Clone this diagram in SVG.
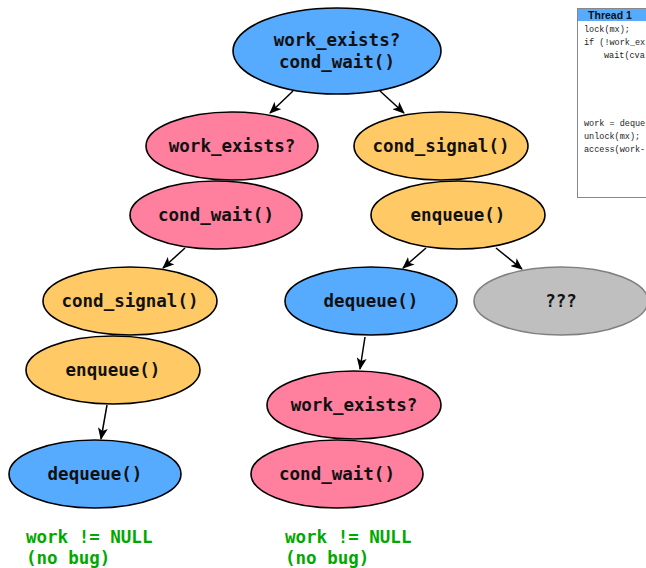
<svg xmlns="http://www.w3.org/2000/svg" width="646" height="568" viewBox="0 0 646 568">
  <style>
    .n { stroke: #000; stroke-width: 1.6; }
    .blue { fill: #56abff; }
    .pink { fill: #ff7f9f; }
    .yellow { fill: #ffc966; }
    .gray { fill: #bfbfbf; stroke: #808080; }
    .t { font-family: "DejaVu Sans Mono", "Liberation Mono", monospace; font-weight: bold; font-size: 17.5px; text-anchor: middle; fill: #111; }
    .note { font-family: "DejaVu Sans Mono", "Liberation Mono", monospace; font-weight: bold; font-size: 17.5px; fill: #00a800; }
    .code { font-family: "Liberation Mono", "DejaVu Sans Mono", monospace; font-size: 8.5px; fill: #222; }
    .edge { stroke: #000; stroke-width: 1.5; fill: none; marker-end: url(#arr); }
  </style>
  <defs>
    <marker id="arr" viewBox="0 0 12 10" refX="11" refY="5" markerWidth="12" markerHeight="10" markerUnits="userSpaceOnUse" orient="auto">
      <path d="M0,0 L12,5 L0,10 L3,5 Z" fill="#000"/>
    </marker>
    <clipPath id="panel-clip">
      <rect x="578" y="9" width="68" height="188"/>
    </clipPath>
  </defs>

  <!-- code panel (runs past the right edge of the canvas) -->
  <g id="code-panel">
    <rect x="577.5" y="8.5" width="80" height="189" fill="#fff" stroke="#888" stroke-width="1"/>
    <rect x="578" y="9" width="79" height="12" fill="#56abff"/>
    <g clip-path="url(#panel-clip)">
      <text x="610" y="18.5" font-family="Liberation Sans, Arial, sans-serif" font-weight="bold" font-size="10.5" text-anchor="middle" fill="#111">Thread 1</text>
      <text class="code" x="584" y="32">lock(mx);</text>
      <text class="code" x="584" y="45">if (!work_ex</text>
      <text class="code" x="604" y="58">wait(cva</text>
      <text class="code" x="584" y="126">work = deque</text>
      <text class="code" x="584" y="139">unlock(mx);</text>
      <text class="code" x="584" y="152">access(work-</text>
    </g>
  </g>

  <!-- connectors -->
  <g id="edges">
    <line class="edge" x1="293" y1="91" x2="270" y2="113"/>
    <line class="edge" x1="380" y1="91" x2="404" y2="113"/>
    <line class="edge" x1="185" y1="248" x2="163" y2="268"/>
    <line class="edge" x1="426" y1="248" x2="403" y2="268"/>
    <line class="edge" x1="496" y1="248" x2="522" y2="269"/>
    <line class="edge" x1="365" y1="337" x2="360" y2="369"/>
    <line class="edge" x1="107" y1="405" x2="101" y2="439"/>
  </g>

  <!-- nodes -->
  <g id="root">
    <ellipse class="n blue" cx="337" cy="51" rx="104" ry="43"/>
    <text class="t" x="337" y="46">work_exists?</text>
    <text class="t" x="337" y="68">cond_wait()</text>
  </g>
  <g id="a-check">
    <ellipse class="n pink" cx="232" cy="146" rx="86" ry="34"/>
    <text class="t" x="232" y="152">work_exists?</text>
  </g>
  <g id="a-wait">
    <ellipse class="n pink" cx="216" cy="215" rx="86" ry="34"/>
    <text class="t" x="216" y="221">cond_wait()</text>
  </g>
  <g id="b-signal">
    <ellipse class="n yellow" cx="441" cy="146" rx="87" ry="34"/>
    <text class="t" x="441" y="152">cond_signal()</text>
  </g>
  <g id="b-enqueue">
    <ellipse class="n yellow" cx="458" cy="215" rx="87" ry="34"/>
    <text class="t" x="458" y="221">enqueue()</text>
  </g>
  <g id="c-signal">
    <ellipse class="n yellow" cx="130" cy="301" rx="87" ry="34"/>
    <text class="t" x="130" y="307">cond_signal()</text>
  </g>
  <g id="c-enqueue">
    <ellipse class="n yellow" cx="113" cy="370" rx="87" ry="34"/>
    <text class="t" x="113" y="376">enqueue()</text>
  </g>
  <g id="c-dequeue">
    <ellipse class="n blue" cx="95" cy="474" rx="86" ry="34"/>
    <text class="t" x="95" y="480">dequeue()</text>
  </g>
  <g id="d-dequeue">
    <ellipse class="n blue" cx="371" cy="301" rx="86" ry="34"/>
    <text class="t" x="371" y="307">dequeue()</text>
  </g>
  <g id="unknown">
    <ellipse class="n gray" cx="561" cy="301" rx="87" ry="34"/>
    <text class="t" x="561" y="307">???</text>
  </g>
  <g id="d-check">
    <ellipse class="n pink" cx="354" cy="405" rx="87" ry="34"/>
    <text class="t" x="354" y="411">work_exists?</text>
  </g>
  <g id="d-wait">
    <ellipse class="n pink" cx="337" cy="474" rx="86" ry="34"/>
    <text class="t" x="337" y="480">cond_wait()</text>
  </g>

  <!-- outcome notes -->
  <g id="note-left">
    <text class="note" x="26" y="543">work != NULL</text>
    <text class="note" x="26" y="564">(no bug)</text>
  </g>
  <g id="note-right">
    <text class="note" x="285" y="543">work != NULL</text>
    <text class="note" x="285" y="564">(no bug)</text>
  </g>
</svg>
